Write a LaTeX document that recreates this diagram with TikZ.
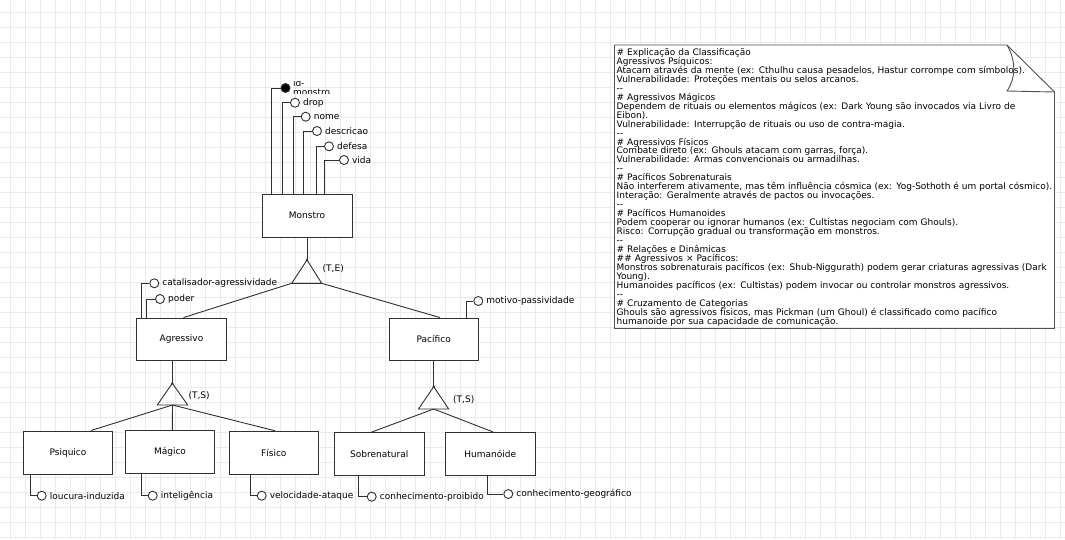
\documentclass[tikz,border=0pt]{standalone}
\usepackage{fontspec}
\setmainfont{DejaVu Sans}
\usetikzlibrary{calc}
\definecolor{gridc}{HTML}{EAEAEA}
\definecolor{linec}{HTML}{303030}
\definecolor{notec}{HTML}{505050}
\newcommand\lblfont{\fontsize{9}{9}\selectfont}
\newcommand\notefont{\fontsize{9}{8.95}\selectfont\lineskiplimit=-100pt\lineskip=0pt}
\newcommand\dd{-\kern0pt-}
\begin{document}
\begin{tikzpicture}[x=1pt,y=-1pt,
  ent/.style={draw=linec, fill=white, line width=0.9pt, minimum width=90pt, minimum height=43pt, inner sep=0pt, font=\lblfont},
  attr/.style={circle, draw=linec, fill=white, line width=0.9pt, minimum size=9pt, inner sep=0pt},
  keyattr/.style={attr, fill=black},
  alab/.style={anchor=west, inner sep=0pt, font=\lblfont, xshift=3pt},
  conn/.style={draw=linec, line width=0.9pt},
  speclab/.style={anchor=west, inner sep=0pt, font=\lblfont},
  gridline/.style={draw=gridc, line width=0.8pt},
  notetext/.style={anchor=base west, inner sep=0pt, font=\notefont, align=left, text width=445pt}
]
\useasboundingbox (0,0) rectangle (1065,539);
\fill[white] (0,0) rectangle (1065,539);
\foreach \i in {0,...,70} \draw[gridline] ({10.7+15*\i},0) -- ({10.7+15*\i},539);
\foreach \j in {0,...,35} \draw[gridline] (0,{12.3+15*\j}) -- (1065,{12.3+15*\j});

% entities
\node[ent] (mon) at (307,215.5) {Monstro};
\node[ent, minimum height=42pt] (agr) at (181.5,339) {Agressivo};
\node[ent, minimum height=42pt, minimum width=89.5pt] (pac) at (433.7,339) {Pacífico};
\node[ent, minimum width=89pt, minimum height=43.5pt] (psi) at (68,452.7) {Psiquico};
\node[ent, minimum width=88.6pt] (mag) at (170,451.7) {Mágico};
\node[ent, minimum width=89pt] (fis) at (273.8,452.7) {Físico};
\node[ent, minimum width=90.3pt] (sob) at (379.2,454) {Sobrenatural};
\node[ent, minimum width=89.3pt] (hum) at (490.3,454) {Humanóide};

% Monstro attributes
\node[keyattr] (a-id) at (285.5,88) {};
\node[attr] (a-drop) at (295,102.7) {};
\node[attr] (a-nome) at (305.7,116.7) {};
\node[attr] (a-desc) at (317,131) {};
\node[attr] (a-def) at (329,146.3) {};
\node[attr] (a-vida) at (344,160) {};
\draw[conn] ([xshift=10pt]mon.north west) |- (a-id);
\draw[conn] ([xshift=21pt]mon.north west) |- (a-drop);
\draw[conn] ([xshift=32pt]mon.north west) |- (a-nome);
\draw[conn] ([xshift=42pt]mon.north west) |- (a-desc);
\draw[conn] ([xshift=55pt]mon.north west) |- (a-def);
\draw[conn] ([xshift=63pt]mon.north west) |- (a-vida);
\begin{scope}
\clip (289,81) rectangle (345,93.5);
\node[anchor=base west, inner sep=0pt, font=\lblfont, align=left] (l-id) at (292.8,95.3) {id-\\monstro};
\end{scope}
\node[alab] (l-drop) at (a-drop.east) {drop};
\node[alab] (l-nome) at (a-nome.east) {nome};
\node[alab] (l-desc) at (a-desc.east) {descricao};
\node[alab] (l-def) at (a-def.east) {defesa};
\node[alab] (l-vida) at (a-vida.east) {vida};

% first specialization
\coordinate (t1a) at (307,260);
\coordinate (t1l) at (291.7,283.3);
\coordinate (t1r) at (321.7,283.3);
\draw[conn] (mon.south) -- (t1a);
\draw[conn] (t1a) -- (t1l) -- (t1r) -- cycle;
\fill[linec] (t1a) circle (1.3);
\draw[conn] (t1l) -- ([xshift=2pt]agr.north);
\draw[conn] (t1r) -- ([xshift=6.3pt]pac.north);
\node[speclab] (s1) at (322.5,269) {(T,E)};

% Agressivo attributes
\node[attr] (a-cat) at (154.3,283.3) {};
\node[attr] (a-pod) at (160,299) {};
\draw[conn] ([xshift=5.8pt]agr.north west) |- (a-cat);
\draw[conn] ([xshift=10.8pt]agr.north west) |- (a-pod);
\node[alab] (l-cat) at (a-cat.east) {catalisador-agressividade};
\node[alab] (l-pod) at (a-pod.east) {poder};

% Pacifico attribute
\node[attr] (a-mot) at (478.3,301) {};
\draw[conn] ([xshift=77.7pt]pac.north west) |- (a-mot);
\node[alab] (l-mot) at (a-mot.east) {motivo-passividade};

% second specialization
\coordinate (t2a) at (172.3,383.3);
\coordinate (t2l) at (157.3,405);
\coordinate (t2r) at (187.7,405);
\coordinate (t2m) at (172.5,405);
\draw[conn] ([xshift=-9.2pt]agr.south) -- (t2a);
\draw[conn] (t2a) -- (t2l) -- (t2r) -- cycle;
\fill[linec] (t2a) circle (1.3);
\draw[conn] (t2m) -- ([xshift=23pt]psi.north);
\draw[conn] (t2m) -- ([xshift=2.3pt]mag.north);
\draw[conn] (t2m) -- ([xshift=1.2pt]fis.north);
\node[speclab] (s2) at (188.3,395.7) {(T,S)};

% third specialization
\coordinate (t3a) at (433.7,386.7);
\coordinate (t3l) at (418.5,409);
\coordinate (t3r) at (448.7,409);
\coordinate (t3m) at (433.7,409);
\draw[conn] (pac.south) -- (t3a);
\draw[conn] (t3a) -- (t3l) -- (t3r) -- cycle;
\fill[linec] (t3a) circle (1.3);
\draw[conn] (t3m) -- ([xshift=-7.5pt]sob.north);
\draw[conn] (t3m) -- ([xshift=3pt]hum.north);
\node[speclab] (s3) at (453,399.3) {(T,S)};

% bottom attributes
\node[attr] (a-lou) at (41.7,495.7) {};
\node[attr] (a-int) at (152.7,495.7) {};
\node[attr] (a-vel) at (261.7,495.7) {};
\node[attr] (a-con) at (371.7,496.7) {};
\node[attr] (a-geo) at (508.3,494) {};
\draw[conn] ([xshift=7.2pt]psi.south west) |- (a-lou);
\draw[conn] ([xshift=15.7pt]mag.south west) |- (a-int);
\draw[conn] ([xshift=21.9pt]fis.south west) |- (a-vel);
\draw[conn] ([xshift=24.8pt]sob.south west) |- (a-con);
\draw[conn] ([xshift=42.4pt]hum.south west) |- (a-geo);
\node[alab] (l-lou) at (a-lou.east) {loucura-induzida};
\node[alab] (l-int) at (a-int.east) {inteligência};
\node[alab] (l-vel) at (a-vel.east) {velocidade-ataque};
\node[alab] (l-con) at (a-con.east) {conhecimento-proibido};
\node[alab] (l-geo) at (a-geo.east) {conhecimento-geográfico};

% note
\draw[notec, fill=white, line width=0.9pt] (614.5,45) -- (1007,45) -- (1054.5,92) -- (1054.5,328.3) -- (614.5,328.3) -- cycle;
\draw[notec, line width=0.9pt] (1007,45) .. controls (1016,60) and (1016,78) .. (1007,91) -- (1054.5,92);
\node[notetext] (note) at (616.5,55.5) {\# Explicação da Classificação\\
Agressivos Psíquicos:\\
Atacam através da mente (ex: Cthulhu causa pesadelos, Hastur corrompe com símbolos).\\
Vulnerabilidade: Proteções mentais ou selos arcanos.\\
\dd\\
\# Agressivos Mágicos\\
Dependem de rituais ou elementos mágicos (ex: Dark Young são invocados via Livro de\\
Eibon).\\
Vulnerabilidade: Interrupção de rituais ou uso de contra-magia.\\
\dd\\
\# Agressivos Físicos\\
Combate direto (ex: Ghouls atacam com garras, força).\\
Vulnerabilidade: Armas convencionais ou armadilhas.\\
\dd\\
\# Pacíficos Sobrenaturais\\
Não interferem ativamente, mas têm influência cósmica (ex: Yog-Sothoth é um portal cósmico).\\
Interação: Geralmente através de pactos ou invocações.\\
\dd\\
\# Pacíficos Humanoides\\
Podem cooperar ou ignorar humanos (ex: Cultistas negociam com Ghouls).\\
Risco: Corrupção gradual ou transformação em monstros.\\
\dd\\
\# Relações e Dinâmicas\\
\#\# Agressivos × Pacíficos:\\
Monstros sobrenaturais pacíficos (ex: Shub-Niggurath) podem gerar criaturas agressivas (Dark\\
Young).\\
Humanoides pacíficos (ex: Cultistas) podem invocar ou controlar monstros agressivos.\\
\dd\\
\# Cruzamento de Categorias\\
Ghouls são agressivos físicos, mas Pickman (um Ghoul) é classificado como pacífico\\
humanoide por sua capacidade de comunicação.};
\end{tikzpicture}
\end{document}
